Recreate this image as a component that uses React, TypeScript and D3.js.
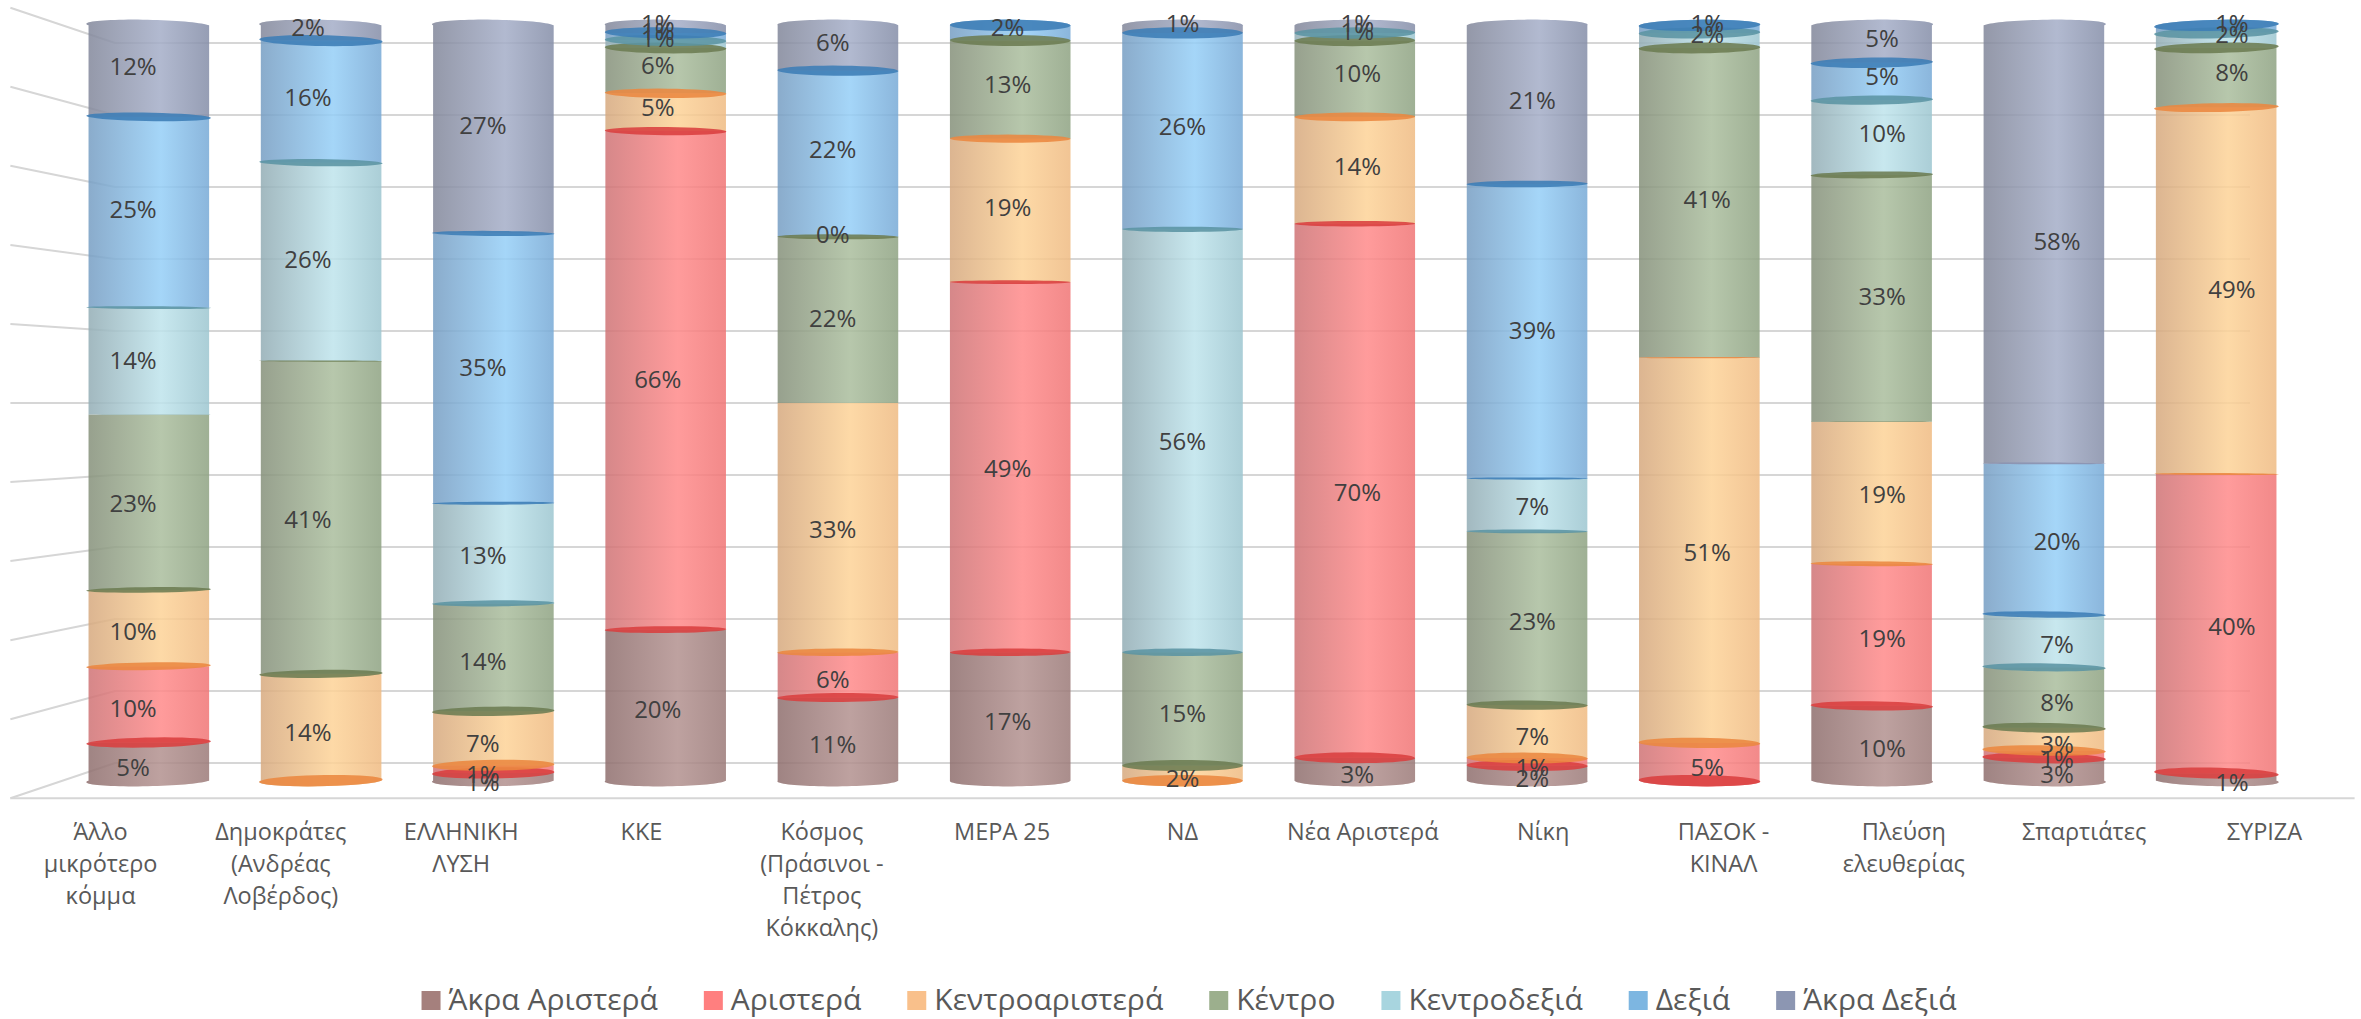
import React, { useEffect, useRef } from "react";
import * as d3 from "d3";

const W = 2361;
const H = 1019;

// category tick labels, one array of lines per party
const categories = [
  ["Άλλο", "μικρότερο", "κόμμα"],
  ["Δημοκράτες", "(Ανδρέας", "Λοβέρδος)"],
  ["ΕΛΛΗΝΙΚΗ", "ΛΥΣΗ"],
  ["ΚΚΕ"],
  ["Κόσμος", "(Πράσινοι -", "Πέτρος", "Κόκκαλης)"],
  ["ΜΕΡΑ 25"],
  ["ΝΔ"],
  ["Νέα Αριστερά"],
  ["Νίκη"],
  ["ΠΑΣΟΚ -", "ΚΙΝΑΛ"],
  ["Πλεύση", "ελευθερίας"],
  ["Σπαρτιάτες"],
  ["ΣΥΡΙΖΑ"],
];

const seriesNames = ["Άκρα Αριστερά", "Αριστερά", "Κεντροαριστερά", "Κέντρο", "Κεντροδεξιά", "Δεξιά", "Άκρα Δεξιά"];

// one array per series, in category order (null = empty cell)
const akraAristera = [5, null, 1, 20, 11, 17, null, 3, 2, null, 10, 3, 1];
const aristera = [10, null, 1, 66, 6, 49, null, 70, 1, 5, 19, 1, 40];
const kentroaristera = [10, 14, 7, 5, 33, 19, 2, 14, 7, 51, 19, 3, 49];
const kentro = [23, 41, 14, 6, 22, 13, 15, 10, 23, 41, 33, 8, 8];
const kentrodexia = [14, 26, 13, 1, 0, null, 56, 1, 7, 2, 10, 7, 2];
const dexia = [25, 16, 35, 1, 22, 2, 26, null, 39, 1, 5, 20, 1];
const akraDexia = [12, 2, 27, 1, 6, null, 1, 1, 21, null, 5, 58, null];

const seriesValues = [akraAristera, aristera, kentroaristera, kentro, kentrodexia, dexia, akraDexia];

// colours: legend swatch, cylinder shading (left, highlight, right), disc edge
const legendColors = ["#A5807D", "#FF7F7F", "#F9C08B", "#9CAF8D", "#A8D5DF", "#7DB6E1", "#8C96B2"];
const shades = [
  ["#8f6f6e", "#b39290", "#9c7b79"],
  ["#cf7476", "#ff8b8b", "#f07676"],
  ["#d6a97f", "#fdd398", "#efbb83"],
  ["#86917b", "#abbe9e", "#8fa383"],
  ["#93adb5", "#bfe4ec", "#9dc6d0"],
  ["#779ec3", "#96cff7", "#78aad6"],
  ["#82879a", "#a5aec8", "#858ea8"],
];
const edgeColors = ["#8a6a68", "#d93f3f", "#ea8740", "#6c7c52", "#5b94a3", "#3c7db6", "#8790ae"];

// perspective set-up (back wall is the reference plane)
const VP = [1182.5, 403];
const S_FRONT = 1.098;
const S_AXIS = 1.049;
const S_RAD = 0.016;
const S_LABEL = 1.065;
const FONT = "'Open Sans', 'Noto Sans', sans-serif";

const proj = (x: number, y: number, s: number) => [VP[0] + (x - VP[0]) * s, VP[1] + (y - VP[1]) * s];

function drawChart(el: SVGSVGElement) {
  const svg = d3.select(el);
  svg.selectAll("*").remove();

  const x = d3
    .scaleBand<number>()
    .domain(categories.map((_, i) => i))
    .range([115, 2250])
    .paddingInner(0.3)
    .paddingOuter(0.15);
  const y = d3.scaleLinear().domain([0, 100]).range([763, 43]);
  const R = x.bandwidth() / 2;

  const defs = svg.append("defs");
  shades.forEach((s, i) => {
    const g = defs.append("linearGradient").attr("id", "cyl" + i).attr("x1", 0).attr("x2", 1).attr("y1", 0).attr("y2", 0);
    g.append("stop").attr("offset", "0%").attr("stop-color", s[0]);
    g.append("stop").attr("offset", "60%").attr("stop-color", s[1]);
    g.append("stop").attr("offset", "100%").attr("stop-color", s[2]);
  });

  // walls: gridlines on the back wall, running along the left side wall
  const grid = svg.append("g").attr("fill", "none").attr("stroke", "#d6d6d6").attr("stroke-width", 2);
  const line = d3.line();
  y.ticks(10).forEach((t) => {
    const pts = [proj(115, y(t), S_FRONT), proj(115, y(t), 1), proj(2250, y(t), 1)];
    grid.append("path").attr("d", line(pts as any));
  });
  grid.append("path").attr("d", line([proj(115, y(0), S_FRONT), proj(2250, y(0), S_FRONT)] as any));

  const arc = (xc: number, yy: number, from: number, to: number) => {
    const pts: number[][] = [];
    const n = 40;
    for (let k = 0; k <= n; k++) {
      const th = from + ((to - from) * k) / n;
      pts.push(proj(xc + R * Math.cos(th), yy, S_AXIS + S_RAD * Math.sin(th)));
    }
    return pts;
  };

  const bars = svg.append("g");
  const labels: { x: number; y: number; t: string }[] = [];

  categories.forEach((_, j) => {
    const xc = (x(j) as number) + R;
    const vals = seriesValues.map((s) => s[j]);
    const total = d3.sum(vals, (v) => v ?? 0);
    const stack: { i: number; v: number | null; a: number; b: number }[] = [];
    let acc = 0;
    vals.forEach((v, i) => {
      const a = (acc / total) * 100;
      acc += v ?? 0;
      stack.push({ i, v, a, b: (acc / total) * 100 });
    });
    const pos = stack.filter((d) => (d.v ?? 0) > 0);
    const first = pos[0];
    const last = pos[pos.length - 1];
    const g = bars.append("g");

    pos.forEach((d) => {
      const y0 = y(d.a);
      const y1 = y(d.b);
      const bottom = d === first ? arc(xc, y0, Math.PI, 0) : [proj(xc - R, y0, S_AXIS), proj(xc + R, y0, S_AXIS)];
      const top = d === last ? arc(xc, y1, 0, Math.PI) : [proj(xc + R, y1, S_AXIS), proj(xc - R, y1, S_AXIS)];
      g.append("path")
        .attr("d", d3.line().curve(d3.curveLinearClosed)([...bottom, ...top] as any))
        .attr("fill", `url(#cyl${d.i})`)
        .attr("fill-opacity", 0.86);
    });

    // discs at the joins between series
    const joins = Array.from(new Set(stack.slice(0, -1).map((d) => +d.b.toFixed(4))));
    joins.forEach((p) => {
      const lower = pos.filter((d) => Math.abs(d.b - p) < 1e-3).pop();
      const upper = pos.find((d) => Math.abs(d.a - p) < 1e-3);
      const yy = y(p);
      const aboveEye = yy < VP[1];
      const pick = aboveEye ? lower ?? upper : upper ?? lower;
      if (!pick) return;
      g.append("path")
        .attr("d", d3.line().curve(d3.curveLinearClosed)(arc(xc, yy, 0, Math.PI * 2) as any))
        .attr("fill", edgeColors[pick.i])
        .attr("fill-opacity", 0.88);
    });

    stack.forEach((d) => {
      if (d.v === null) return;
      const [lx, ly] = proj(xc, y((d.a + d.b) / 2), S_LABEL);
      labels.push({ x: lx, y: ly, t: d.v + "%" });
    });
  });

  svg
    .append("g")
    .attr("font-family", FONT)
    .attr("font-size", 24)
    .attr("fill", "#404040")
    .attr("text-anchor", "middle")
    .selectAll("text")
    .data(labels)
    .join("text")
    .attr("x", (d) => d.x)
    .attr("y", (d) => d.y + 8.5)
    .text((d) => d.t);

  // category axis along the front edge of the floor
  const axis = svg
    .append("g")
    .attr("font-family", FONT)
    .attr("font-size", 23.5)
    .attr("fill", "#595959")
    .attr("text-anchor", "middle");
  categories.forEach((lines, j) => {
    const [cx] = proj((x(j) as number) + R, 0, S_FRONT);
    const t = axis.append("text").attr("x", cx).attr("y", 840);
    lines.forEach((ln, k) => t.append("tspan").attr("x", cx).attr("y", 840 + k * 32).text(ln));
  });

  // legend
  const leg = svg.append("g").attr("font-family", FONT).attr("font-size", 30).attr("fill", "#595959");
  const items = seriesNames.map((name, i) => {
    const it = leg.append("g");
    it.append("rect").attr("width", 19).attr("height", 19).attr("y", 991).attr("fill", legendColors[i]);
    const tx = it.append("text").attr("x", 27).attr("y", 1010).text(name);
    return { it, w: 27 + (tx.node() as SVGTextElement).getComputedTextLength() };
  });
  const gap = 46;
  const totalW = d3.sum(items, (d) => d.w) + gap * (items.length - 1);
  let lx = 1189 - totalW / 2;
  items.forEach((d) => {
    d.it.attr("transform", `translate(${lx},0)`);
    lx += d.w + gap;
  });
}

export default function App() {
  const ref = useRef<SVGSVGElement>(null);
  useEffect(() => {
    if (ref.current) drawChart(ref.current);
  }, []);
  return (
    <svg
      ref={ref}
      width={W}
      height={H}
      style={{ position: "absolute", left: 0, top: 0, display: "block", background: "#fff" }}
    />
  );
}
